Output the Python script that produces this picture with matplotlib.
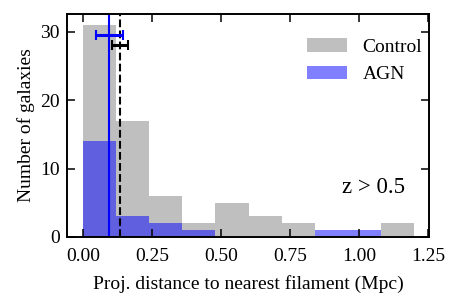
import matplotlib.pyplot as plt
import numpy as np

plt.rcParams['font.family'] = ['Liberation Serif', 'DejaVu Serif']
plt.rcParams['mathtext.fontset'] = 'stix'

# hranice binů a počty galaxií
bin_edges = np.linspace(0.0, 1.2, 11)
control_counts = np.array([31, 17, 6, 2, 5, 3, 2, 0, 0, 2])
agn_counts = np.array([14, 3, 2, 1, 0, 0, 0, 1, 1, 0])

# mediány a jejich chyby
agn_median = 0.095
agn_err = 0.049
agn_err_y = 29.5
control_median = 0.135
control_err = 0.029
control_err_y = 28.0

centers = 0.5 * (bin_edges[:-1] + bin_edges[1:])

fig, ax = plt.subplots(figsize=(4.58, 3.03), dpi=100)
fig.subplots_adjust(left=0.146, right=0.937, top=0.954, bottom=0.218)

ax.hist(centers, bins=bin_edges, weights=control_counts, color='gray',
        alpha=0.5, label='Control')
ax.hist(centers, bins=bin_edges, weights=agn_counts, color='blue',
        alpha=0.5, label='AGN')

ax.axvline(agn_median, color='blue', lw=1.5)
ax.axvline(control_median, color='black', lw=1.5, ls='--')
ax.errorbar(agn_median, agn_err_y, xerr=agn_err, color='blue', capsize=3.5,
            elinewidth=2.2, capthick=1.5)
ax.errorbar(control_median, control_err_y, xerr=control_err, color='black',
            capsize=3.5, elinewidth=2.2, capthick=1.5)

ax.text(0.94, 7.3, 'z > 0.5', fontsize=16.5, va='center')

ax.set_xlabel('Proj. distance to nearest filament (Mpc)', fontsize=14,
              labelpad=7)
ax.set_ylabel('Number of galaxies', fontsize=14)
ax.set_xticks([0.0, 0.25, 0.5, 0.75, 1.0, 1.25])
ax.set_yticks([0, 10, 20, 30])
ax.set_xlim(-0.058, 1.254)
ax.set_ylim(0, 32.6)
ax.tick_params(direction='in', top=True, right=True, labelsize=14,
               length=6, width=1.1, pad=5)
ax.tick_params(axis='x', pad=8)
for s in ax.spines.values():
    s.set_linewidth(1.4)

ax.legend(frameon=False, fontsize=14, loc='upper right',
          bbox_to_anchor=(1.008, 0.935), handlelength=2.05, handletextpad=0.8,
          labelspacing=0.52, borderaxespad=0.1)

plt.savefig('out.png', dpi=100)
